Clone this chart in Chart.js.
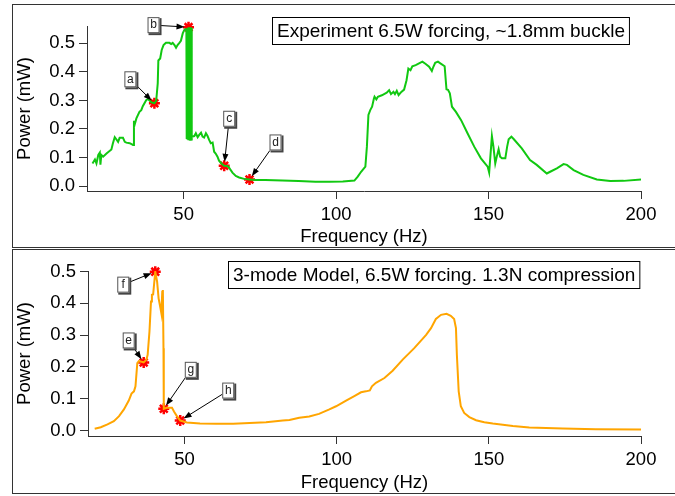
<!DOCTYPE html>
<html>
<head>
<meta charset="utf-8">
<script src="https://cdn.jsdelivr.net/npm/chart.js@4.4.1/dist/chart.umd.min.js"></script>
<style>
  body { margin: 0; background: #fff; }
  #wrap { position: relative; width: 675px; height: 496px; overflow: hidden; }
  .frame { position: absolute; border: 1px solid #333; box-sizing: border-box; }
  canvas { position: absolute; left: 0; }
</style>
</head>
<body>
<div id="wrap">
  <div class="frame" style="left:12px; top:4px; width:700px; height:244px;"></div>
  <div class="frame" style="left:12px; top:249px; width:700px; height:245px;"></div>
  <canvas id="topChart" width="675" height="248" style="top:0"></canvas>
  <canvas id="botChart" width="675" height="247" style="top:249px"></canvas>
</div>
<script>
// experiment (green) - frequency in Hz, power in mW
var expFreq = [20.1, 20.9, 21.4, 22.0, 22.5, 22.7, 23.0, 23.6, 24.7, 26.3, 26.8, 27.4, 27.9, 28.5, 29.0, 30.1, 30.7, 31.2, 32.3, 33.4,
  33.7, 33.9, 34.5, 35.5, 36.1, 36.6, 37.7, 38.3, 38.8, 39.3, 40.4, 41.0, 41.5, 41.7, 42.3, 42.8, 43.4, 44.2, 45.3, 45.9,
  46.4, 47.0, 47.5, 48.0, 48.6, 49.1, 49.7, 50.2, 50.5,
  50.9, 51.0, 51.1, 51.2, 51.3, 51.4, 51.5, 51.6, 51.7, 51.8, 51.9, 52.0, 52.1, 52.2, 52.3, 52.4, 52.5, 52.6,
  52.7, 53.5, 54.0, 54.6, 55.1, 55.7, 56.2, 56.7, 57.3, 57.8, 58.4, 58.9, 59.5, 60.0, 60.5, 61.1, 61.6, 62.5, 63.3, 64.3,
  64.9, 66.0, 67.1, 68.2, 69.8, 71.6, 73.6, 76.8, 82.3, 87.7, 93.2, 97.8, 102.2, 106.0, 107.1, 108.2, 109.6, 110.1, 110.6, 111.2,
  111.8, 112.4, 112.6, 113.2, 113.7, 115.0, 116.6, 117.4, 118.0, 118.8, 119.3, 119.9, 120.5, 121.4, 122.3, 123.1, 123.7, 124.4, 125.0, 126.1,
  127.2, 128.3, 129.4, 130.5, 131.4, 131.9, 132.5, 133.4, 134.2, 135.6, 136.2, 136.7, 137.3, 138.0, 139.3, 141.0, 143.1, 145.3, 147.5, 149.7,
  150.2, 151.1, 151.6, 152.2, 152.7, 153.3, 153.8, 154.4, 155.5, 156.1, 156.6, 157.5, 158.3, 160.9, 163.6, 165.8, 169.1, 170.2, 172.4, 174.6,
  175.7, 177.9, 181.1, 185.5, 189.9, 194.3, 200.0];
var expPower = [0.079, 0.093, 0.079, 0.109, 0.117, 0.075, 0.109, 0.103, 0.114, 0.128, 0.150, 0.171, 0.164, 0.155, 0.169, 0.169, 0.155, 0.152, 0.150, 0.144,
  0.229, 0.214, 0.237, 0.260, 0.266, 0.280, 0.301, 0.305, 0.300, 0.294, 0.290, 0.299, 0.360, 0.440, 0.447, 0.477, 0.494, 0.502, 0.502, 0.498,
  0.502, 0.494, 0.485, 0.494, 0.502, 0.509, 0.535, 0.547, 0.550,
  0.550, 0.165, 0.552, 0.162, 0.553, 0.165, 0.555, 0.557, 0.160, 0.556, 0.163, 0.557, 0.162, 0.556, 0.165, 0.557, 0.163, 0.555,
  0.173, 0.175, 0.185, 0.171, 0.179, 0.187, 0.173, 0.170, 0.185, 0.176, 0.161, 0.150, 0.152, 0.120, 0.114, 0.103, 0.089, 0.078, 0.071, 0.070,
  0.064, 0.047, 0.035, 0.030, 0.025, 0.023, 0.021, 0.021, 0.019, 0.0175, 0.015, 0.015, 0.016, 0.019, 0.033, 0.050, 0.068, 0.138, 0.249, 0.266,
  0.278, 0.307, 0.313, 0.304, 0.313, 0.318, 0.327, 0.336, 0.322, 0.330, 0.322, 0.334, 0.319, 0.330, 0.338, 0.371, 0.412, 0.406, 0.420, 0.424,
  0.430, 0.436, 0.428, 0.418, 0.403, 0.418, 0.432, 0.436, 0.430, 0.420, 0.339, 0.337, 0.325, 0.278, 0.260, 0.231, 0.185, 0.138, 0.097, 0.068,
  0.047, 0.175, 0.138, 0.079, 0.103, 0.129, 0.103, 0.097, 0.097, 0.138, 0.164, 0.173, 0.164, 0.132, 0.091, 0.074, 0.044, 0.050, 0.062, 0.077,
  0.074, 0.056, 0.039, 0.023, 0.0175, 0.018, 0.023];

// 3-mode model (orange)
var modelFreq = [20.5, 22.5, 24.7, 26.8, 28.5, 30.1, 31.7, 32.6, 33.4, 33.9, 34.5, 35.0, 35.9, 36.6, 37.5, 37.9, 38.5, 39.0, 39.3, 39.7,
  40.4, 41.0, 41.5, 42.1, 42.4, 42.7, 42.9, 43.1, 43.2, 44.2, 45.9, 46.6, 47.5, 48.6, 50.8, 55.1, 60.5, 66.0, 71.4, 76.8,
  82.3, 84.5, 87.7, 91.0, 94.2, 97.6, 99.8, 103.1, 105.8, 108.0, 109.6, 110.9, 111.6, 112.9, 115.7, 118.4, 121.7, 125.5, 129.4, 131.0,
  132.6, 134.3, 136.1, 137.5, 138.6, 139.2, 139.5, 140.1, 140.8, 141.9, 143.6, 145.8, 148.5, 151.3, 157.9, 163.3, 174.3, 185.2, 200.0];
var modelPower = [0.005, 0.010, 0.019, 0.029, 0.045, 0.066, 0.094, 0.116, 0.123, 0.139, 0.212, 0.218, 0.216, 0.214, 0.223, 0.238, 0.312, 0.406, 0.427, 0.428,
  0.500, 0.469, 0.416, 0.385, 0.369, 0.437, 0.442, 0.259, 0.068, 0.071, 0.071, 0.059, 0.045, 0.031, 0.025, 0.022, 0.021, 0.021, 0.023, 0.026,
  0.031, 0.033, 0.040, 0.044, 0.052, 0.066, 0.076, 0.094, 0.108, 0.120, 0.123, 0.126, 0.139, 0.150, 0.165, 0.188, 0.223, 0.259, 0.301, 0.322,
  0.351, 0.364, 0.367, 0.361, 0.351, 0.322, 0.238, 0.123, 0.076, 0.055, 0.042, 0.032, 0.026, 0.022, 0.014, 0.009, 0.006, 0.004, 0.003];

// labelled points
var expMarkFreq = [40.4, 51.6, 63.3, 71.6];
var expMarkPower = [0.290, 0.557, 0.071, 0.023];
var expMarkText = ['a', 'b', 'c', 'd'];
var modelMarkFreq = [36.6, 40.4, 43.2, 48.6];
var modelMarkPower = [0.214, 0.500, 0.068, 0.031];
var modelMarkText = ['e', 'f', 'g', 'h'];

var xTicks = [50, 100, 150, 200];

var FONT = "'Liberation Sans', Arial, sans-serif";

function toXY(xs, ys) {
  return xs.map(function(x, i) { return {x: x, y: ys[i]}; });
}

// boxed letters with arrows + legend text box
var notePlugin = {
  id: 'notes',
  afterDraw: function(chart) {
    var o = chart.options.plugins.notes;
    var ctx = chart.ctx;
    var meta = chart.getDatasetMeta(1);
    ctx.save();
    ctx.font = '12px ' + FONT;
    meta.data.forEach(function(pt, i) {
      var off = o.offsets[i];
      var bx = pt.x + off[0], by = pt.y + off[1];
      var w = 12, h = 16;
      // arrow
      var dx = pt.x - bx, dy = pt.y - by;
      var t = Math.min(Math.abs((w / 2) / (dx || 1e-6)), Math.abs((h / 2) / (dy || 1e-6)));
      var sx = bx + dx * t, sy = by + dy * t;
      var len = Math.sqrt(dx * dx + dy * dy);
      var ux = dx / len, uy = dy / len;
      var ex = pt.x - ux * 4, ey = pt.y - uy * 4;
      ctx.strokeStyle = '#000';
      ctx.lineWidth = 1;
      ctx.beginPath();
      ctx.moveTo(sx, sy);
      ctx.lineTo(ex - ux * 6, ey - uy * 6);
      ctx.stroke();
      ctx.fillStyle = '#000';
      ctx.beginPath();
      ctx.moveTo(ex, ey);
      ctx.lineTo(ex - ux * 8 - uy * 3, ey - uy * 8 + ux * 3);
      ctx.lineTo(ex - ux * 8 + uy * 3, ey - uy * 8 - ux * 3);
      ctx.closePath();
      ctx.fill();
      // box
      ctx.fillStyle = '#444';
      ctx.fillRect(bx - w / 2 + 1, by - h / 2 + 1, w + 1, h + 1);
      ctx.fillStyle = '#fff';
      ctx.fillRect(bx - w / 2, by - h / 2, w, h);
      ctx.strokeStyle = '#555';
      ctx.strokeRect(bx - w / 2 + 0.5, by - h / 2 + 0.5, w - 1, h - 1);
      ctx.fillStyle = '#222';
      ctx.textAlign = 'center';
      ctx.textBaseline = 'middle';
      ctx.fillText(o.text[i], bx, by);
    });
    // legend box
    ctx.font = '19px ' + FONT;
    var tw = ctx.measureText(o.legend).width;
    var L = o.legendBox;
    ctx.fillStyle = '#fff';
    ctx.fillRect(L[0], L[1], tw + 10, L[2]);
    ctx.strokeStyle = '#000';
    ctx.lineWidth = 1;
    ctx.strokeRect(L[0] + 0.5, L[1] + 0.5, tw + 9, L[2] - 1);
    ctx.fillStyle = '#000';
    ctx.textAlign = 'left';
    ctx.textBaseline = 'middle';
    ctx.fillText(o.legend, L[0] + 5, L[1] + L[2] / 2 + 1);
    ctx.restore();
  }
};

function makeChart(id, lineData, color, markData, text, offsets, legend, legendBox, yMin, yMax, area, titlePadBottom) {
  return new Chart(document.getElementById(id), {
    type: 'line',
    data: {
      datasets: [{
        data: lineData,
        borderColor: color,
        borderWidth: 2,
        pointRadius: 0,
        tension: 0,
        fill: false
      }, {
        data: markData,
        showLine: false,
        clip: false,
        pointStyle: 'star',
        pointRadius: 5.5,
        borderWidth: 2.5,
        borderColor: '#ff0000',
        backgroundColor: '#ff0000'
      }]
    },
    options: {
      responsive: false,
      animation: false,
      events: [],
      layout: { padding: { left: 0, right: 675 - area.right, top: area.top, bottom: 0 } },
      plugins: {
        legend: { display: false },
        tooltip: { enabled: false },
        notes: { text: text, offsets: offsets, legend: legend, legendBox: legendBox }
      },
      scales: {
        x: {
          type: 'linear',
          min: 18.3,
          max: 200,
          afterFit: function(s) { s.height = area.h - area.bottom; },
          afterBuildTicks: function(s) { s.ticks = xTicks.map(function(v) { return {value: v}; }); },
          ticks: { font: { family: FONT, size: 18.5 }, color: '#000', padding: 5, maxRotation: 0 },
          grid: { drawOnChartArea: false, tickLength: 8, color: '#000', tickColor: '#333' },
          border: { display: true, color: '#333', width: 1 },
          title: { display: true, text: 'Frequency (Hz)', color: '#000', font: { family: FONT, size: 18.5 }, padding: { top: 0, bottom: titlePadBottom } }
        },
        y: {
          min: yMin,
          max: yMax,
          afterFit: function(s) { s.width = area.left; },
          ticks: {
            stepSize: 0.1,
            includeBounds: false,
            font: { family: FONT, size: 18.5 },
            color: '#000',
            padding: 4,
            callback: function(v) { return v.toFixed(1); }
          },
          grid: { drawOnChartArea: false, tickLength: 8, color: '#000', tickColor: '#333' },
          border: { display: true, color: '#333', width: 1 },
          title: { display: true, text: 'Power (mW)', color: '#000', font: { family: FONT, size: 18.5 }, padding: { top: 14, bottom: 0 } }
        }
      }
    },
    plugins: [notePlugin]
  });
}

makeChart('topChart', toXY(expFreq, expPower), '#11c811', toXY(expMarkFreq, expMarkPower), expMarkText,
  [[-24, -24], [-35, -2], [5, -47], [26, -37]],
  'Experiment 6.5W forcing, ~1.8mm buckle', [272, 17, 28],
  -0.0175, 0.561, { left: 87, right: 641, top: 26, bottom: 191, h: 248 }, 0);

makeChart('botChart', toXY(modelFreq, modelPower), '#ffa500', toXY(modelMarkFreq, modelMarkPower), modelMarkText,
  [[-15, -22], [-32, 13], [27, -39], [48, -30]],
  '3-mode Model, 6.5W forcing. 1.3N compression', [228, 12, 28],
  -0.0176, 0.502, { left: 88, right: 641, top: 22, bottom: 187, h: 247 }, 2);
</script>
</body>
</html>
